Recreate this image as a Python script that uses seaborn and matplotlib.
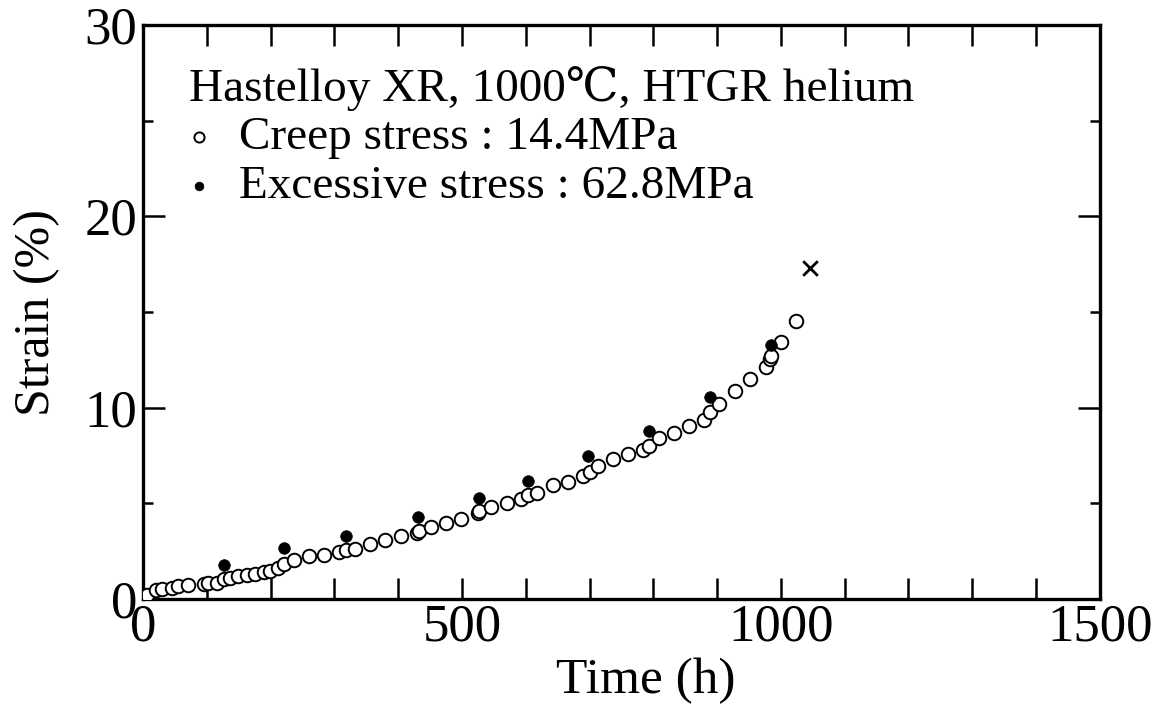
import matplotlib
matplotlib.use("Agg")
import matplotlib.pyplot as plt
import seaborn as sns
import pandas as pd
from matplotlib.ticker import MultipleLocator

# ---- data ----
creep_time = [6, 21, 30, 46, 55, 70, 95, 102, 116, 127, 136, 149, 163, 175, 189, 199,
              211, 221, 237, 261, 284, 308, 318, 332, 356, 379, 404, 429, 432, 451,
              475, 498, 525, 527, 546, 570, 592, 603, 618, 642, 666, 690, 700, 714,
              737, 761, 784, 793, 809, 832, 856, 879, 889, 903, 928, 951, 976, 983,
              985, 1000, 1024]
creep_strain = [0.22, 0.45, 0.50, 0.60, 0.68, 0.74, 0.77, 0.82, 0.86, 1.03, 1.12, 1.20,
                1.24, 1.29, 1.43, 1.49, 1.63, 1.81, 2.02, 2.23, 2.30, 2.44, 2.55, 2.60,
                2.85, 3.06, 3.28, 3.43, 3.53, 3.78, 3.99, 4.20, 4.50, 4.59, 4.79, 5.01,
                5.25, 5.44, 5.55, 5.94, 6.14, 6.44, 6.65, 6.97, 7.32, 7.57, 7.80, 7.98,
                8.39, 8.69, 9.02, 9.36, 9.78, 10.20, 10.88, 11.48, 12.12, 12.55, 12.72,
                13.42, 14.53]
excess_time = [127, 221, 318, 431, 527, 603, 698, 793, 889, 985]
excess_strain = [1.78, 2.67, 3.31, 4.27, 5.30, 6.15, 7.46, 8.80, 10.57, 13.28]
rupture_time = [1046]
rupture_strain = [17.3]

x_major = [0, 500, 1000, 1500]
y_major = [0, 10, 20, 30]
title_text = "Hastelloy XR, 1000\u2103, HTGR helium"
creep_label = "Creep stress : 14.4MPa"
excess_label = "Excessive stress : 62.8MPa"
xlabel = "Time (h)"
ylabel = "Strain (%)"

# ---- style ----
sns.set_theme(style="ticks")
plt.rcParams["font.family"] = ["Liberation Serif", "DejaVu Serif"]
plt.rcParams["text.color"] = "black"
plt.rcParams["axes.labelcolor"] = "black"
plt.rcParams["xtick.color"] = "black"
plt.rcParams["ytick.color"] = "black"

fig = plt.figure(figsize=(11.57, 7.10), dpi=100)
ax = fig.add_axes([0.1236, 0.1563, 0.827, 0.8085])

creep_df = pd.DataFrame({"t": creep_time, "s": creep_strain})
excess_df = pd.DataFrame({"t": excess_time, "s": excess_strain})
rup_df = pd.DataFrame({"t": rupture_time, "s": rupture_strain})

sns.scatterplot(data=creep_df, x="t", y="s", ax=ax, marker="o", s=95,
                facecolor="white", edgecolor="black", linewidth=1.4,
                label=creep_label, zorder=3)
sns.scatterplot(data=excess_df, x="t", y="s", ax=ax, marker="o", s=70,
                color="black", edgecolor="black", linewidth=0.5,
                label=excess_label, zorder=4)
sns.scatterplot(data=rup_df, x="t", y="s", ax=ax, marker="x", s=110,
                color="black", linewidth=2.0, zorder=4)

ax.set_xlim(0, 1500)
ax.set_ylim(0, 30)
ax.set_xticks(x_major)
ax.set_xticklabels([str(v) for v in x_major])
ax.set_yticks(y_major)
ax.set_yticklabels([str(v) for v in y_major])
ax.xaxis.set_minor_locator(MultipleLocator(100))
ax.yaxis.set_minor_locator(MultipleLocator(5))
ax.tick_params(which="both", direction="in", top=True, right=True,
               width=1.8, color="black", labelsize=38, labelcolor="black")
ax.tick_params(axis="x", which="major", length=15, pad=3)
ax.tick_params(axis="x", which="minor", length=15)
ax.tick_params(axis="y", which="major", length=16, pad=4)
ax.tick_params(axis="y", which="minor", length=7)
for sp in ax.spines.values():
    sp.set_linewidth(2.4)
    sp.set_color("black")

ax.set_xlabel(xlabel, fontsize=37, color="black")
ax.xaxis.set_label_coords(0.525, -0.103)
ax.xaxis.label.set_va("top")
ax.set_ylabel(ylabel, fontsize=36, color="black", labelpad=18)

leg = ax.legend(title=title_text, loc="upper left", bbox_to_anchor=(0.028, 0.962),
                frameon=False, fontsize=34, title_fontsize=34, markerscale=0.75,
                handletextpad=0.62, handlelength=0.45, labelspacing=0.12,
                borderaxespad=0.0, alignment="left")
for t in leg.get_texts():
    t.set_color("black")
leg.get_title().set_color("black")

fig.savefig("out.png", dpi=100)
